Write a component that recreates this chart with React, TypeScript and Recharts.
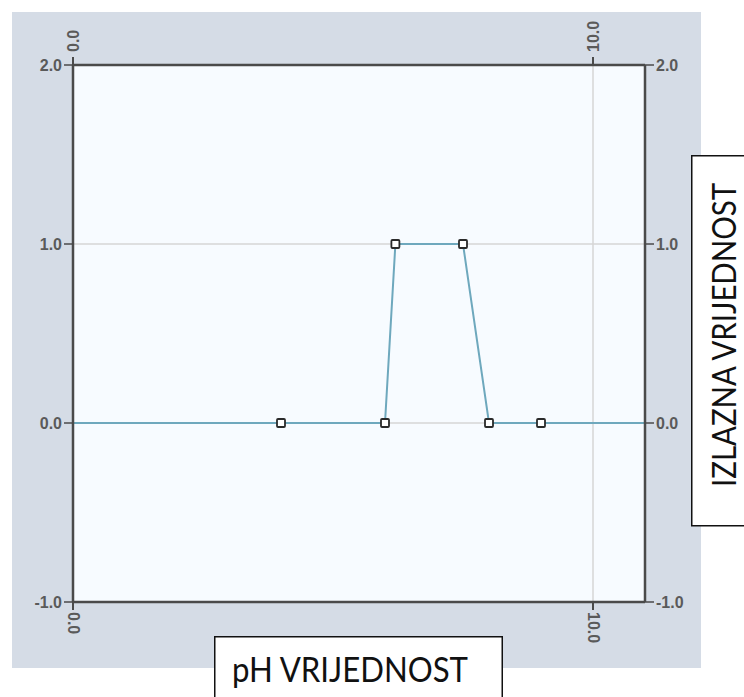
import React from 'react';
import {
  LineChart,
  Line,
  XAxis,
  YAxis,
  CartesianGrid,
} from 'recharts';

// pH value (x) against output value (y)
const phValues = [0, 4, 6, 6.2, 7.5, 8, 9, 11];
const outputValues = [0, 0, 0, 1, 1, 0, 0, 0];
const xTicks = [0, 10];
const yTicks = [-1, 0, 1, 2];
const xLabel = 'pH VRIJEDNOST';
const yLabel = 'IZLAZNA VRIJEDNOST';

const data = phValues.map((x, i) => ({ x, y: outputValues[i] }));

const fmt = (v: number) => v.toFixed(1);
const tickStyle = { fill: '#5a5a5a', fontSize: 16, fontWeight: 700, fontFamily: 'Liberation Sans, Arial, sans-serif' };

const TopTick = (props: any) => {
  const { x, y, payload } = props;
  return (
    <text x={x} y={y - 3} transform={`rotate(-90 ${x} ${y - 3})`} textAnchor="start" dominantBaseline="central" {...tickStyle}>
      {fmt(payload.value)}
    </text>
  );
};

const BottomTick = (props: any) => {
  const { x, y, payload } = props;
  return (
    <text x={x} y={y} transform={`rotate(90 ${x} ${y})`} textAnchor="start" dominantBaseline="central" {...tickStyle}>
      {fmt(payload.value)}
    </text>
  );
};

const SquareDot = (props: any) => {
  const { cx, cy, index } = props;
  if (index === 0 || index === data.length - 1) return <g key={`d${index}`} />;
  return (
    <rect key={`d${index}`} x={cx - 4} y={cy - 4} width={8} height={8} rx={1} fill="#ffffff" stroke="#2a2a2a" strokeWidth={1.8} />
  );
};

export default function App() {
  return (
    <div style={{ position: 'absolute', left: 0, top: 0, width: 744, height: 697, background: '#ffffff', overflow: 'hidden' }}>
      <div style={{ position: 'absolute', left: 12, top: 12, width: 689, height: 656, background: '#d5dce6' }} />
      <div style={{ position: 'absolute', left: 0, top: 0 }}>
        <LineChart width={744} height={697} data={data} margin={{ top: 25, right: 59, bottom: 55, left: 33 }}>
          <CartesianGrid xAxisId="bottom" yAxisId="left" fill="#f7fbff" stroke="#d6d6d6" strokeWidth={1.5} />
          <XAxis
            xAxisId="bottom"
            type="number"
            dataKey="x"
            domain={[0, 11]}
            ticks={xTicks}
            orientation="bottom"
            height={40}
            axisLine={{ stroke: '#4a4a4a', strokeWidth: 2.5 }}
            tickLine={{ stroke: '#4a4a4a', strokeWidth: 2 }}
            tickSize={8}
            tick={<BottomTick />}
            allowDataOverflow
          />
          <XAxis
            xAxisId="top"
            type="number"
            dataKey="x"
            domain={[0, 11]}
            ticks={xTicks}
            orientation="top"
            height={40}
            axisLine={{ stroke: '#4a4a4a', strokeWidth: 2.5 }}
            tickLine={{ stroke: '#4a4a4a', strokeWidth: 2 }}
            tickSize={8}
            tick={<TopTick />}
            allowDataOverflow
          />
          <YAxis
            yAxisId="left"
            type="number"
            domain={[-1, 2]}
            ticks={yTicks}
            width={40}
            axisLine={{ stroke: '#4a4a4a', strokeWidth: 2.5 }}
            tickLine={{ stroke: '#4a4a4a', strokeWidth: 1.5 }}
            tickSize={9}
            tickMargin={2}
            tick={tickStyle}
            tickFormatter={fmt}
          />
          <YAxis
            yAxisId="right"
            orientation="right"
            type="number"
            domain={[-1, 2]}
            ticks={yTicks}
            width={40}
            axisLine={{ stroke: '#4a4a4a', strokeWidth: 2.5 }}
            tickLine={{ stroke: '#4a4a4a', strokeWidth: 1.5 }}
            tickSize={9}
            tickMargin={2}
            tick={tickStyle}
            tickFormatter={fmt}
          />
          <Line
            xAxisId="top"
            yAxisId="right"
            dataKey="y"
            stroke="none"
            dot={false}
            activeDot={false}
            isAnimationActive={false}
          />
          <Line
            xAxisId="bottom"
            yAxisId="left"
            type="linear"
            dataKey="y"
            stroke="#6ea8bd"
            strokeWidth={2}
            dot={SquareDot}
            activeDot={false}
            isAnimationActive={false}
          />
        </LineChart>
      </div>
      <svg style={{ position: 'absolute', left: 691, top: 155 }} width={60} height={372}>
        <rect x={0.75} y={0.75} width={70} height={370} fill="#ffffff" stroke="#111111" strokeWidth={1.5} />
        <text
          x={32.5}
          y={180}
          transform="rotate(-90 32.5 180)"
          textAnchor="middle"
          dominantBaseline="central"
          fontFamily="Lato, 'Open Sans', sans-serif"
          fontSize={32}
          fill="#111111"
          textLength={304}
          lengthAdjust="spacingAndGlyphs"
        >
          {yLabel}
        </text>
      </svg>
      <svg style={{ position: 'absolute', left: 214, top: 636 }} width={289} height={70}>
        <rect x={0.75} y={0.75} width={287.5} height={80} fill="#ffffff" stroke="#111111" strokeWidth={1.5} />
        <text
          x={18}
          y={46}
          fontFamily="Lato, 'Open Sans', sans-serif"
          fontSize={34}
          fill="#111111"
          textLength={236}
          lengthAdjust="spacingAndGlyphs"
        >
          {xLabel}
        </text>
      </svg>
    </div>
  );
}
